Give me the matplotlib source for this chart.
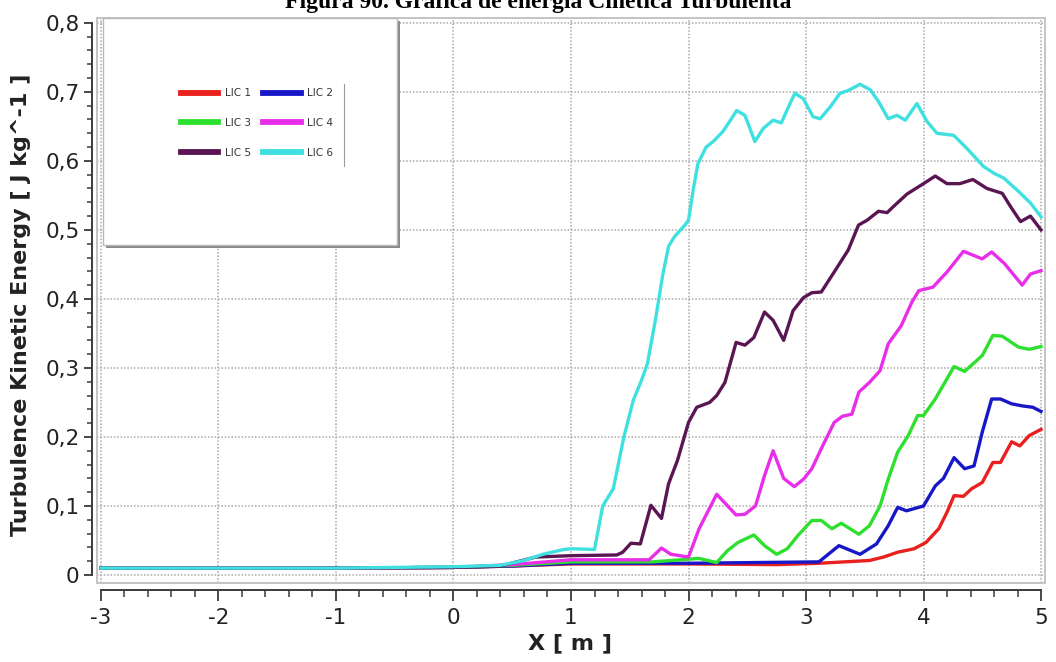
import matplotlib
matplotlib.use("Agg")
import matplotlib.pyplot as plt
from matplotlib.patches import Rectangle
from matplotlib.lines import Line2D
from matplotlib.ticker import MultipleLocator, FuncFormatter

# Turbulent kinetic energy along X for six lines (LIC 1..6)
lic1_x = [-3, -1, 0, 0.5, 1.0, 2.0, 2.75, 3.11, 3.54, 3.66, 3.78, 3.92, 4.02, 4.13, 4.20,
          4.26, 4.34, 4.41, 4.50, 4.59, 4.655, 4.75, 4.82, 4.90, 5.0]
lic1_y = [0.010, 0.010, 0.011, 0.013, 0.016, 0.016, 0.015, 0.017, 0.021, 0.026, 0.033, 0.038,
          0.047, 0.067, 0.091, 0.115, 0.114, 0.125, 0.134, 0.163, 0.163, 0.193, 0.187, 0.202, 0.211]

lic2_x = [-3, -1, 0, 0.5, 1.0, 2.0, 3.11, 3.28, 3.46, 3.60, 3.70, 3.78, 3.855, 4.0, 4.10,
          4.17, 4.26, 4.35, 4.43, 4.50, 4.58, 4.655, 4.75, 4.84, 4.93, 5.0]
lic2_y = [0.010, 0.010, 0.011, 0.013, 0.017, 0.017, 0.019, 0.0425, 0.030, 0.045, 0.0715, 0.098,
          0.093, 0.100, 0.129, 0.140, 0.170, 0.154, 0.158, 0.207, 0.255, 0.255, 0.248, 0.245,
          0.243, 0.237]

lic3_x = [-3, -1, 0, 0.5, 1.0, 1.69, 2.09, 2.24, 2.33, 2.42, 2.556, 2.647, 2.75, 2.84, 2.93,
          3.05, 3.13, 3.22, 3.30, 3.45, 3.54, 3.63, 3.70, 3.78, 3.87, 3.95, 4.0, 4.10, 4.26,
          4.35, 4.50, 4.59, 4.67, 4.81, 4.90, 5.0]
lic3_y = [0.010, 0.010, 0.011, 0.014, 0.019, 0.019, 0.024, 0.018, 0.035, 0.047, 0.058, 0.0425,
          0.030, 0.038, 0.057, 0.079, 0.079, 0.067, 0.075, 0.059, 0.0715, 0.100, 0.139, 0.178,
          0.202, 0.231, 0.231, 0.255, 0.302, 0.295, 0.318, 0.347, 0.346, 0.330, 0.327, 0.331]

lic4_x = [-3, -1, 0, 0.5, 1.0, 1.665, 1.77, 1.85, 2.0, 2.09, 2.24, 2.405, 2.48, 2.57, 2.647,
          2.72, 2.81, 2.90, 2.98, 3.05, 3.13, 3.24, 3.31, 3.39, 3.45, 3.54, 3.63, 3.70, 3.81,
          3.90, 3.96, 4.08, 4.20, 4.34, 4.50, 4.58, 4.69, 4.84, 4.91, 5.0]
lic4_y = [0.010, 0.010, 0.011, 0.015, 0.022, 0.022, 0.039, 0.030, 0.026, 0.067, 0.117, 0.087,
          0.088, 0.100, 0.144, 0.180, 0.140, 0.128, 0.139, 0.154, 0.183, 0.221, 0.230, 0.233,
          0.265, 0.279, 0.296, 0.335, 0.361, 0.395, 0.412, 0.417, 0.439, 0.469, 0.458, 0.468,
          0.451, 0.420, 0.436, 0.441]

lic5_x = [-3, -1, 0, 0.4, 0.7, 1.0, 1.39, 1.44, 1.51, 1.59, 1.68, 1.77, 1.83, 1.906, 2.0,
          2.07, 2.18, 2.24, 2.31, 2.405, 2.48, 2.556, 2.647, 2.72, 2.81, 2.89, 2.98, 3.05,
          3.13, 3.24, 3.36, 3.447, 3.52, 3.617, 3.69, 3.745, 3.86, 4.0, 4.10, 4.20, 4.31,
          4.42, 4.54, 4.67, 4.74, 4.826, 4.91, 5.0]
lic5_y = [0.010, 0.010, 0.011, 0.013, 0.026, 0.028, 0.029, 0.033, 0.046, 0.045, 0.101, 0.082,
          0.132, 0.166, 0.221, 0.243, 0.250, 0.260, 0.279, 0.337, 0.333, 0.344, 0.381, 0.369,
          0.340, 0.383, 0.402, 0.409, 0.410, 0.439, 0.471, 0.507, 0.514, 0.527, 0.525, 0.534,
          0.552, 0.567, 0.578, 0.567, 0.567, 0.573, 0.560, 0.553, 0.534, 0.512, 0.520, 0.500]

lic6_x = [-3, -1, 0, 0.4, 0.6, 0.76, 0.94, 1.0, 1.2, 1.27, 1.36, 1.45, 1.53, 1.60, 1.65,
          1.72, 1.78, 1.83, 1.88, 1.97, 2.0, 2.04, 2.08, 2.15, 2.21, 2.29, 2.35, 2.41, 2.48,
          2.565, 2.636, 2.72, 2.79, 2.85, 2.906, 2.977, 3.06, 3.12, 3.205, 3.29, 3.36, 3.46,
          3.547, 3.617, 3.70, 3.774, 3.845, 3.944, 4.03, 4.115, 4.257, 4.37, 4.51, 4.60,
          4.684, 4.826, 4.91, 5.0]
lic6_y = [0.010, 0.010, 0.012, 0.014, 0.021, 0.030, 0.037, 0.038, 0.037, 0.100, 0.125, 0.200,
          0.253, 0.282, 0.306, 0.371, 0.434, 0.476, 0.490, 0.507, 0.514, 0.558, 0.596, 0.620,
          0.628, 0.642, 0.657, 0.673, 0.666, 0.628, 0.647, 0.659, 0.655, 0.678, 0.698, 0.690,
          0.664, 0.661, 0.678, 0.698, 0.702, 0.711, 0.703, 0.686, 0.661, 0.666, 0.659, 0.683,
          0.657, 0.640, 0.637, 0.618, 0.592, 0.582, 0.575, 0.553, 0.539, 0.519]

labels = ["LIC 1", "LIC 2", "LIC 3", "LIC 4", "LIC 5", "LIC 6"]
colors = ["#e8201e", "#1717c8", "#2ee02e", "#e82ee8", "#5a1652", "#3fe0e0"]
series = [(lic1_x, lic1_y), (lic2_x, lic2_y), (lic3_x, lic3_y),
          (lic4_x, lic4_y), (lic5_x, lic5_y), (lic6_x, lic6_y)]

W, H = 1056, 662
fig = plt.figure(figsize=(W / 100, H / 100), dpi=100)
fig.patch.set_facecolor("white")

def fx(px):
    return px / W

def fy(py):
    return 1 - py / H

ax = fig.add_axes([fx(97), fy(583), fx(1045) - fx(97), fy(18) - fy(583)])
ax.set_xlim(-3.034, 5.034)
ax.set_ylim(-0.0116, 0.807)

for (xs, ys), c in zip(series, colors):
    ax.plot(xs, ys, color=c, lw=2.4, solid_joinstyle="round", zorder=3)

# grid
ax.xaxis.set_major_locator(MultipleLocator(1))
ax.xaxis.set_minor_locator(MultipleLocator(0.2))
ax.yaxis.set_major_locator(MultipleLocator(0.1))
ax.yaxis.set_minor_locator(MultipleLocator(0.02))
ax.grid(True, which="major", color="#a8a8a8", lw=1.1, linestyle=(0, (1, 1.2)), zorder=1)

# light frame around the plotting area
for s in ["top", "right"]:
    ax.spines[s].set_visible(False)
ax.add_patch(Rectangle((0, 0), 1, 1, transform=ax.transAxes, fill=False,
                       ec="#c4c4c4", lw=1.4, clip_on=False, zorder=2))

# detached axis lines
ax.spines["left"].set_position(("outward", 3.6))
ax.spines["left"].set_bounds(0, 0.8)
ax.spines["bottom"].set_position(("outward", 5))
ax.spines["bottom"].set_bounds(-3, 5)
for s in ["left", "bottom"]:
    ax.spines[s].set_color("#3a3a3a")
    ax.spines[s].set_linewidth(1.4)

ax.tick_params(axis="both", which="major", direction="out", color="#3a3a3a", width=1.3,
               labelsize=15.5, labelcolor="#222222")
ax.tick_params(axis="x", which="major", length=8, pad=5)
ax.tick_params(axis="x", which="minor", length=5, width=1.1, color="#3a3a3a")
ax.tick_params(axis="y", which="major", length=6, pad=3)
ax.tick_params(axis="y", which="minor", length=3.5, width=1.1, color="#3a3a3a")

def yfmt(v, pos):
    if abs(v) < 1e-9:
        return "0"
    return f"{v:.1f}".replace(".", ",")

ax.yaxis.set_major_formatter(FuncFormatter(yfmt))
ax.xaxis.set_major_formatter(FuncFormatter(lambda v, p: f"{int(round(v))}"))

# axis titles
fig.text(fx(21), fy(305), "Turbulence Kinetic Energy [ J kg^-1 ]", rotation=90,
         ha="center", va="center", fontsize=16, fontweight="bold", color="#222222")
fig.text(fx(570), fy(643), "X [ m ]", ha="center", va="center", fontsize=16,
         fontweight="bold", color="#222222")

# figure caption
fig.text(fx(538), fy(8), "Figura 90. Gráfica de energía Cinética Turbulenta",
         ha="center", va="baseline", fontsize=17, fontweight="bold",
         family="Liberation Serif", color="black")

# legend panel with drop shadow
bx0, bx1, by0, by1 = 103, 397, 18, 245
fig.patches.append(Rectangle((fx(bx0 + 3), fy(by1 + 3)), fx(bx1) - fx(bx0), fy(by0) - fy(by1),
                             transform=fig.transFigure, fc="#8a8a8a", ec="none", zorder=4))
fig.patches.append(Rectangle((fx(bx0), fy(by1)), fx(bx1) - fx(bx0), fy(by0) - fy(by1),
                             transform=fig.transFigure, fc="white", ec="#b8b8b8", lw=1,
                             zorder=5))
fig.lines.append(Line2D([fx(344), fx(344)], [fy(84), fy(166)], transform=fig.transFigure,
                        color="#9a9a9a", lw=0.8, zorder=6))

# entries laid out row by row: (1, 2), (3, 4), (5, 6)
order = [0, 2, 4, 1, 3, 5]
handles = [Line2D([], [], color=colors[i], lw=4.2) for i in order]
leg = fig.legend(handles, [labels[i] for i in order], ncol=2, loc="center",
                 bbox_to_anchor=(fx(257), fy(123)), bbox_transform=fig.transFigure,
                 frameon=False, fontsize=7.5, handlelength=3.6, handletextpad=0.6,
                 columnspacing=1.2, labelspacing=1.9)
leg.set_zorder(7)
for t in leg.get_texts():
    t.set_color("#333333")

fig.savefig("out.png", dpi=100, facecolor="white")
